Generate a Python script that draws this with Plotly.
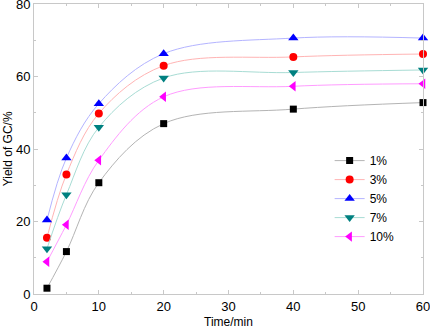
import plotly.graph_objects as go

time_min = [2, 5, 10, 20, 40, 60]
series_names = ["1%", "3%", "5%", "7%", "10%"]
yield_1 = [1.6, 11.7, 30.7, 47.0, 51.0, 52.8]
yield_3 = [15.5, 33.0, 49.8, 63.0, 65.4, 66.2]
yield_5 = [20.4, 37.5, 52.5, 66.3, 70.6, 70.6]
yield_7 = [12.5, 27.4, 46.0, 59.6, 61.1, 61.8]
yield_10 = [8.9, 19.1, 36.9, 54.4, 57.3, 58.0]

all_yields = [yield_1, yield_3, yield_5, yield_7, yield_10]
marker_colors = ["#000000", "#ff0000", "#0000ff", "#008080", "#ff00ff"]
line_colors = ["#b4b4b4", "#ffb4b4", "#b4b4ff", "#a8dcd4", "#ff9cff"]
symbols = ["square", "circle", "triangle-up", "triangle-down", "triangle-left"]
marker_sizes = [7, 8, 9, 9, 9]

FONT = "Liberation Sans, Arial"

fig = go.Figure()
for name, ys, mc, lc, sym, ms in zip(series_names, all_yields, marker_colors, line_colors, symbols, marker_sizes):
    fig.add_trace(go.Scatter(
        x=time_min, y=ys, name=name, mode="lines+markers",
        line=dict(color=lc, width=1, shape="spline", smoothing=1.0),
        marker=dict(color=mc, symbol=sym, size=ms, line=dict(width=0)),
        cliponaxis=False,
    ))

axis_common = dict(
    showline=True, linecolor="#c8c8c8", linewidth=1, mirror="ticks",
    ticks="inside", ticklen=4, tickcolor="#c8c8c8", showgrid=False, zeroline=False,
    tickfont=dict(family=FONT, size=13, color="#000"), automargin=False,
    ticklabeloverflow="allow",
)

fig.update_xaxes(range=[0, 60], dtick=10, minor=dict(dtick=5, ticks="inside", ticklen=2, tickcolor="#c8c8c8"),
                 **axis_common)
fig.update_yaxes(range=[0, 80], dtick=20, minor=dict(dtick=10, ticks="inside", ticklen=2, tickcolor="#c8c8c8"),
                 **axis_common)

fig.add_annotation(text="Time/min", xref="paper", yref="paper", x=0.5, y=-0.095,
                   xanchor="center", yanchor="middle", showarrow=False,
                   font=dict(family=FONT, size=12, color="#000"))
fig.add_annotation(text="Yield of GC/%", xref="paper", yref="paper", x=-0.066, y=0.5,
                   xanchor="center", yanchor="middle", showarrow=False, textangle=-90,
                   font=dict(family=FONT, size=12, color="#000"))

fig.update_layout(
    width=430, height=330,
    margin=dict(l=34, r=7, t=4, b=36, autoexpand=False),
    plot_bgcolor="white", paper_bgcolor="white",
    font=dict(family=FONT, size=12, color="#000"),
    legend=dict(x=0.76, y=0.51, xanchor="left", yanchor="top", bgcolor="rgba(0,0,0,0)",
                font=dict(size=12), tracegroupgap=0, itemwidth=30),
    showlegend=True,
)

fig.write_html("out.html", config={"displayModeBar": False},
               post_script="document.body.style.margin='0';document.body.style.overflow='hidden';")
